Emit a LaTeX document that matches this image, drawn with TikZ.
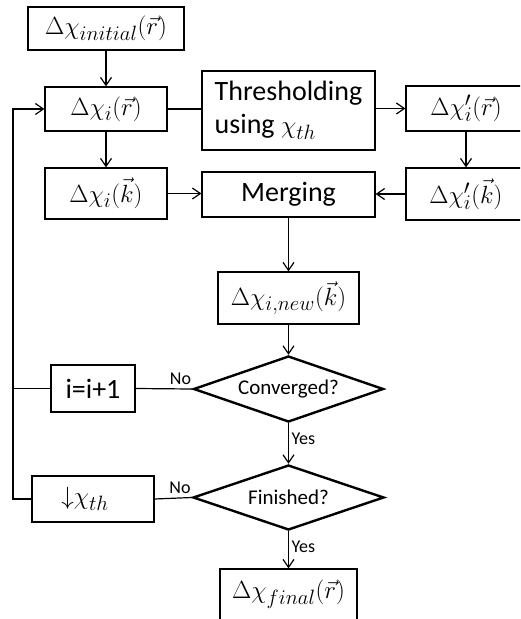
\documentclass[tikz,border=0pt]{standalone}
\usepackage[no-math]{fontspec}
\setmainfont{Carlito}
\usetikzlibrary{arrows.meta,shapes.geometric,calc}
\tikzset{
  blk/.style={draw, line width=1.2pt, inner sep=0pt, font=\fontsize{28}{33}\selectfont},
  dec/.style={draw, diamond, line width=2.4pt, inner sep=0pt, font=\fontsize{21}{24}\selectfont},
  arr/.style={line width=1.2pt, -{Straight Barb[length=8pt,width=11pt,line width=1.2pt]}},
  con/.style={line width=1.2pt},
  lbl/.style={font=\fontsize{18}{20}\selectfont, inner sep=1pt}
}
\begin{document}
\begin{tikzpicture}[x=1pt,y=-1pt]
\useasboundingbox (0,0) rectangle (520,619);
\clip (0,0) rectangle (520,619);
\node[blk, minimum width=156pt, minimum height=43pt] (init) at (106,28.5) {$\Delta\chi_{initial}(\vec{r})$};
\node[blk, minimum width=122pt, minimum height=44pt] (ri) at (106,109) {$\Delta\chi_{i}(\vec{r})$};
\node[blk, minimum width=173pt, minimum height=79pt, align=left] (thr) at (288.5,110.5) {Thresholding\\using $\chi_{th}$};
\node[blk, minimum width=120pt, minimum height=45pt] (rp) at (466,108.5) {$\Delta\chi'_{i}(\vec{r})$};
\node[blk, minimum width=122pt, minimum height=51pt] (ki) at (106,193.5) {$\Delta\chi_{i}(\vec{k})$};
\node[blk, minimum width=173pt, minimum height=45pt] (merge) at (288.5,194.5) {Merging};
\node[blk, minimum width=120pt, minimum height=52pt] (kp) at (466,194) {$\Delta\chi'_{i}(\vec{k})$};
\node[blk, minimum width=141pt, minimum height=52pt] (new) at (288.5,298) {$\Delta\chi_{i,new}(\vec{k})$};
\node[dec, aspect=2.88, minimum width=190pt, minimum height=66pt] (conv) at (288.5,389) {Converged?};
\node[blk, minimum width=84pt, minimum height=47pt] (inc) at (93,388.5) {i=i+1};
\node[dec, aspect=2.94, minimum width=191pt, minimum height=65pt] (fin) at (288.5,497.5) {Finished?};
\node[blk, minimum width=122pt, minimum height=46pt] (dth) at (93,499) {${\downarrow}\chi_{th}$\hspace*{16pt}};
\node[blk, minimum width=137pt, minimum height=51pt] (final) at (288.5,594.5) {$\Delta\chi_{final}(\vec{r})$};
\coordinate (lpb) at (13,499);
% connectors
\draw[arr] (init.south) -- (ri.north);
\draw[con] (ri.east) -- (ri.east -| thr.west);
\draw[arr] (rp.west -| thr.east) -- (rp.west);
\draw[arr] (rp.south) -- (kp.north);
\draw[arr] (ri.south) -- (ki.north);
\draw[arr] (ki.east) -- (ki.east -| merge.west);
\draw[arr] (kp.west) -- (kp.west -| merge.east);
\draw[arr] (merge.south) -- (new.north);
\draw[arr] (new.south) -- (conv.north);
\draw[con] (conv.west) -- (inc.east);
\draw[arr] (conv.south) -- (fin.north);
\draw[con] (fin.west) -- (dth.east);
\draw[arr] (fin.south) -- (final.north);
\draw[arr] (dth.west) -- (lpb) |- (ri.west);
\draw[con] (inc.west) -- (inc.west -| lpb);
% labels
\node[lbl, anchor=south east] at ([yshift=3pt]conv.west) {No};
\node[lbl, anchor=south east] at ([yshift=3pt]fin.west) {No};
\node[lbl, anchor=north west] at ([xshift=2pt,yshift=-9pt]conv.south) {Yes};
\node[lbl, anchor=north west] at ([xshift=2pt,yshift=-9pt]fin.south) {Yes};
\end{tikzpicture}
\end{document}
